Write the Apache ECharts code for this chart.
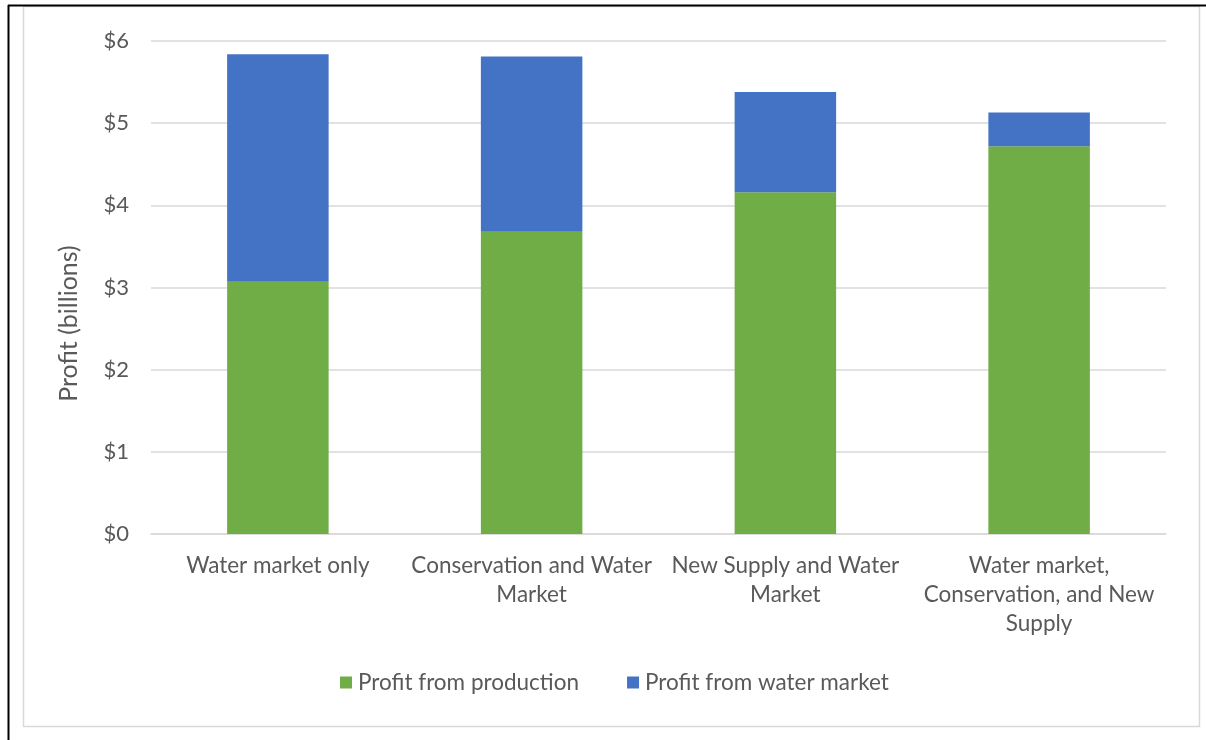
<!DOCTYPE html>
<html>
<head>
<meta charset="utf-8">
<script src="https://cdn.jsdelivr.net/npm/echarts@6/dist/echarts.min.js"></script>
<style>
  html, body { margin: 0; padding: 0; background: #ffffff; }
  #chart { width: 1206px; height: 740px; }
</style>
</head>
<body>
<div id="chart"></div>
<script>
// Scenario names shown under each stacked bar
const categories = [
  'Water market only',
  'Conservation and Water\nMarket',
  'New Supply and Water\nMarket',
  'Water market,\nConservation, and New\nSupply'
];
// Profit components in billions of dollars
const productionProfit = [3.07, 3.68, 4.16, 4.72];
const waterMarketProfit = [2.77, 2.13, 1.22, 0.41];
const seriesNames = ['Profit from production', 'Profit from water market'];
const yTicks = [0, 1, 2, 3, 4, 5, 6];

const FONT = 'Lato, "Open Sans", sans-serif';
const TEXT = '#595959';
const FS = 22.5;

const chart = echarts.init(document.getElementById('chart'), null, { renderer: 'canvas' });

chart.setOption({
  backgroundColor: '#ffffff',
  animation: false,
  textStyle: { fontFamily: FONT, color: TEXT },
  graphic: [
    // outer chart frame
    { type: 'rect', shape: { x: 23.5, y: 6.5, width: 1176, height: 720 },
      style: { fill: 'none', stroke: '#d9d9d9', lineWidth: 1.5 }, z: -1 },
    // dark page edges
    { type: 'line', shape: { x1: 8.5, y1: 5, x2: 8.5, y2: 740 },
      style: { stroke: '#000', lineWidth: 2 } },
    { type: 'line', shape: { x1: 8, y1: 5.5, x2: 1206, y2: 5.5 },
      style: { stroke: '#000', lineWidth: 2 } }
  ],
  grid: { left: 151, right: 40, top: 41, bottom: 206, containLabel: false },
  legend: {
    data: seriesNames,
    bottom: 41,
    left: 335,
    icon: 'rect',
    itemWidth: 12,
    itemHeight: 12,
    itemGap: 48,
    textStyle: { fontFamily: FONT, fontSize: FS, color: TEXT, padding: [0, 0, 0, 1] }
  },
  xAxis: {
    type: 'category',
    data: categories,
    axisLine: { show: true, lineStyle: { color: '#d9d9d9', width: 1.5 } },
    axisTick: { show: false },
    axisLabel: {
      interval: 0,
      margin: 17,
      fontFamily: FONT,
      fontSize: FS,
      color: TEXT,
      lineHeight: 29,
      align: 'center'
    }
  },
  yAxis: {
    type: 'value',
    min: yTicks[0],
    max: yTicks[yTicks.length - 1],
    interval: 1,
    name: 'Profit (billions)',
    nameLocation: 'middle',
    nameGap: 70,
    nameTextStyle: { fontFamily: FONT, fontSize: 25, color: TEXT, padding: [0, 72, 0, 0] },
    axisLine: { show: false },
    axisTick: { show: false },
    splitLine: { lineStyle: { color: '#d9d9d9', width: 1.5 } },
    axisLabel: {
      margin: 22,
      fontFamily: FONT,
      fontSize: 22,
      color: TEXT,
      formatter: v => '$' + v
    }
  },
  series: [
    {
      name: seriesNames[0],
      type: 'bar',
      stack: 'profit',
      data: productionProfit,
      barWidth: '40%',
      itemStyle: { color: '#70ad47' }
    },
    {
      name: seriesNames[1],
      type: 'bar',
      stack: 'profit',
      data: waterMarketProfit,
      barWidth: '40%',
      itemStyle: { color: '#4472c4' }
    }
  ]
});
</script>
</body>
</html>
